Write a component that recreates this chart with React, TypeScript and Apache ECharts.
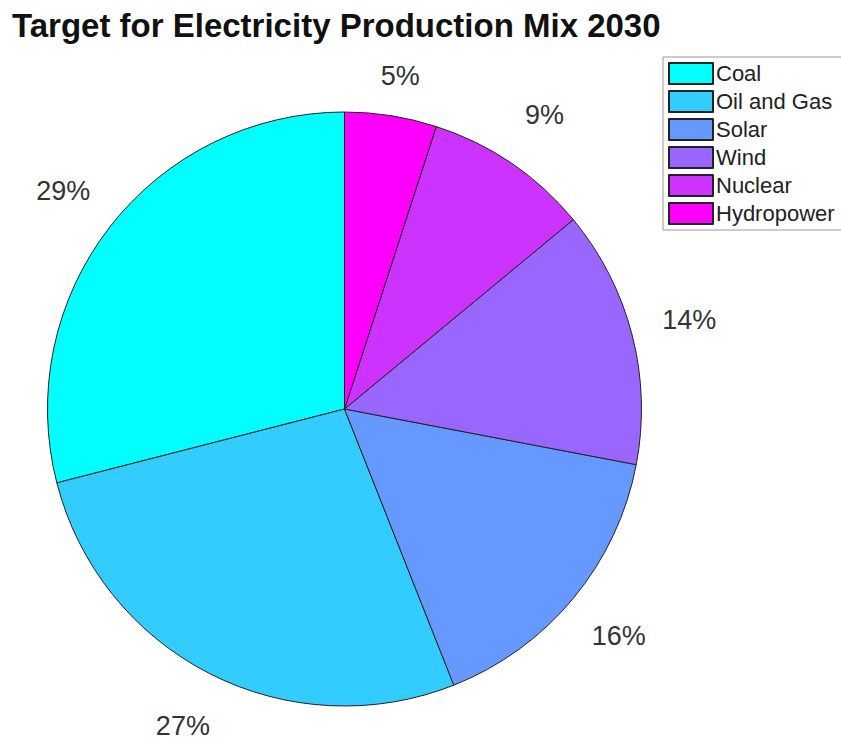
import React, { useEffect, useRef } from "react";
import * as echarts from "echarts";

const categories = ["Coal", "Oil and Gas", "Solar", "Wind", "Nuclear", "Hydropower"];
const values = [29, 27, 16, 14, 9, 5];
const colors = ["#00FFFF", "#33CCFF", "#6699FF", "#9966FF", "#CC33FF", "#FF00FF"];
const titleText = "Target for Electricity Production Mix 2030";

export default function App() {
  const ref = useRef<HTMLDivElement>(null);
  useEffect(() => {
    if (!ref.current) return;
    const chart = echarts.init(ref.current, undefined, { renderer: "svg" });
    const font = "'Liberation Sans', Arial, Helvetica, sans-serif";
    const data = categories.map((c, i) => ({
      name: c,
      value: values[i],
      itemStyle: { color: colors[i] },
    }));
    const total = values.reduce((a, b) => a + b, 0);
    chart.setOption({
      animation: false,
      backgroundColor: "#ffffff",
      title: {
        text: titleText,
        left: 12,
        top: 9,
        padding: 0,
        textStyle: { fontFamily: font, fontWeight: "bold", fontSize: 33, color: "#111" },
      },
      legend: {
        orient: "vertical",
        left: 663,
        top: 57,
        data: categories,
        icon: "rect",
        itemWidth: 44,
        itemHeight: 21,
        itemGap: 5,
        padding: [5, 8, 5, 5],
        borderColor: "#999",
        borderWidth: 1,
        backgroundColor: "#fff",
        selectedMode: false,
        textStyle: {
          fontFamily: font,
          fontSize: 22,
          color: "#222",
          padding: [0, 0, 0, -2],
        },
      },
      series: [
        {
          type: "pie",
          center: [344.5, 409],
          radius: [0, 297],
          clockwise: false,
          startAngle: 90,
          data,
          label: { show: false },
          labelLine: { show: false },
          itemStyle: { borderColor: "#222", borderWidth: 1 },
          emphasis: { disabled: true },
        },
        {
          type: "pie",
          center: [344.5, 409],
          radius: [328, 378],
          clockwise: false,
          startAngle: 90,
          silent: true,
          data: categories.map((c, i) => ({
            name: c,
            value: values[i],
            label: c === "Hydropower" ? { lineHeight: 38 } : undefined,
          })),
          itemStyle: { color: "rgba(0,0,0,0)", borderWidth: 0 },
          label: {
            show: true,
            position: "inside",
            rotate: 0,
            fontFamily: font,
            fontSize: 27,
            color: "#333",
            formatter: (p: any) =>
              (p.name === "Hydropower" ? "\n" : "") + Math.round((p.value / total) * 100) + "%",
          },
          labelLine: { show: false },
          emphasis: { disabled: true },
        },
      ],
    });
    return () => chart.dispose();
  }, []);
  return (
    <div
      ref={ref}
      style={{ position: "absolute", left: 0, top: 0, width: 841, height: 742 }}
    />
  );
}
